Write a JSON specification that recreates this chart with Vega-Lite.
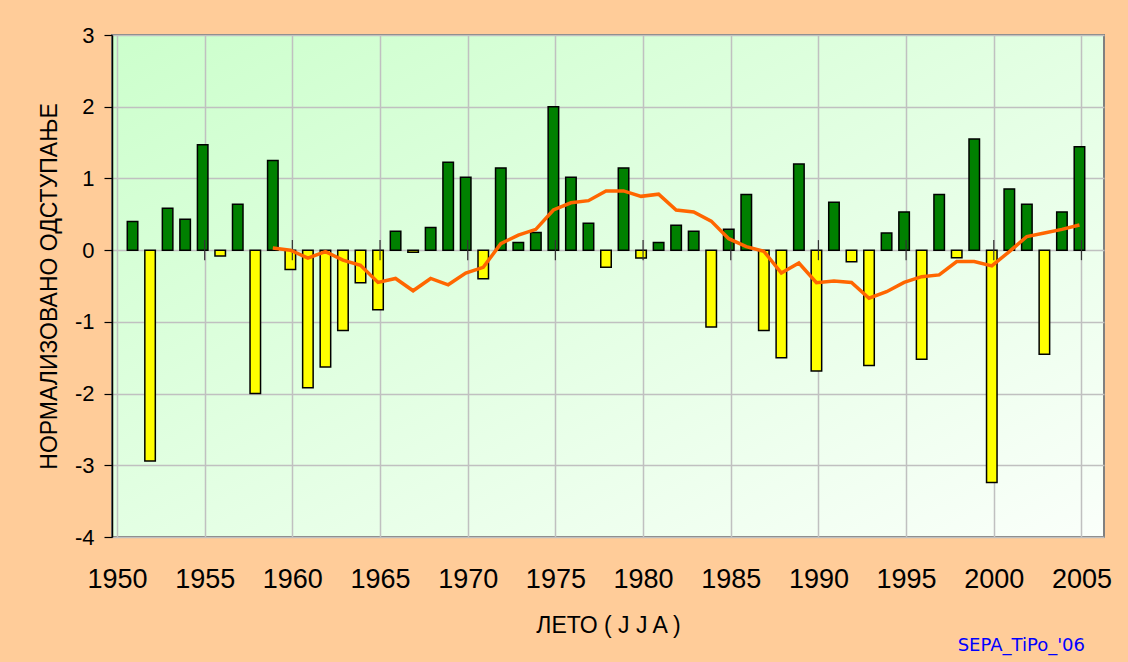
{
  "$schema": "https://vega.github.io/schema/vega-lite/v6.json",
  "width": 992,
  "height": 502,
  "autosize": "none",
  "padding": {"left": 112, "top": 35, "right": 24, "bottom": 125},
  "background": "#FFCC99",
  "config": {
    "font": "Liberation Sans",
    "view": {
      "fill": {"gradient": "linear", "x1": 0, "y1": 0, "x2": 1, "y2": 1, "stops": [{"offset": 0, "color": "#CCFFCC"}, {"offset": 1, "color": "#FAFFFA"}]},
      "stroke": "#808080",
      "strokeWidth": 2
    }
  },
  "title": {
    "text": "SEPA_TiPo_'06",
    "orient": "bottom",
    "anchor": "end",
    "frame": "group",
    "font": "DejaVu Sans",
    "fontSize": 18,
    "fontWeight": "normal",
    "color": "#0000FF",
    "dx": -19,
    "offset": 0
  },
  "datasets": {
    "bars": [
      {"year": 1951, "v": 0.40}, {"year": 1952, "v": -2.94}, {"year": 1953, "v": 0.585}, {"year": 1954, "v": 0.43},
      {"year": 1955, "v": 1.47}, {"year": 1956, "v": -0.08}, {"year": 1957, "v": 0.64}, {"year": 1958, "v": -2.0},
      {"year": 1959, "v": 1.25}, {"year": 1960, "v": -0.27}, {"year": 1961, "v": -1.92}, {"year": 1962, "v": -1.63},
      {"year": 1963, "v": -1.12}, {"year": 1964, "v": -0.455}, {"year": 1965, "v": -0.83}, {"year": 1966, "v": 0.265},
      {"year": 1967, "v": -0.03}, {"year": 1968, "v": 0.315}, {"year": 1969, "v": 1.225}, {"year": 1970, "v": 1.017},
      {"year": 1971, "v": -0.40}, {"year": 1972, "v": 1.146}, {"year": 1973, "v": 0.106}, {"year": 1974, "v": 0.245},
      {"year": 1975, "v": 2.0}, {"year": 1976, "v": 1.017}, {"year": 1977, "v": 0.376}, {"year": 1978, "v": -0.24},
      {"year": 1979, "v": 1.146}, {"year": 1980, "v": -0.11}, {"year": 1981, "v": 0.106}, {"year": 1982, "v": 0.348},
      {"year": 1983, "v": 0.265}, {"year": 1984, "v": -1.07}, {"year": 1985, "v": 0.29}, {"year": 1986, "v": 0.775},
      {"year": 1987, "v": -1.12}, {"year": 1988, "v": -1.50}, {"year": 1989, "v": 1.20}, {"year": 1990, "v": -1.685},
      {"year": 1991, "v": 0.668}, {"year": 1992, "v": -0.163}, {"year": 1993, "v": -1.607}, {"year": 1994, "v": 0.24},
      {"year": 1995, "v": 0.533}, {"year": 1996, "v": -1.523}, {"year": 1997, "v": 0.775}, {"year": 1998, "v": -0.107},
      {"year": 1999, "v": 1.55}, {"year": 2000, "v": -3.24}, {"year": 2001, "v": 0.854}, {"year": 2002, "v": 0.64},
      {"year": 2003, "v": -1.45}, {"year": 2004, "v": 0.533}, {"year": 2005, "v": 1.443}
    ],
    "ma": [
      {"year": 1959, "m": 0.03}, {"year": 1960, "m": 0.0}, {"year": 1961, "m": -0.11}, {"year": 1962, "m": -0.02},
      {"year": 1963, "m": -0.14}, {"year": 1964, "m": -0.21}, {"year": 1965, "m": -0.45}, {"year": 1966, "m": -0.395},
      {"year": 1967, "m": -0.567}, {"year": 1968, "m": -0.395}, {"year": 1969, "m": -0.483}, {"year": 1970, "m": -0.32},
      {"year": 1971, "m": -0.24}, {"year": 1972, "m": 0.09}, {"year": 1973, "m": 0.21}, {"year": 1974, "m": 0.29},
      {"year": 1975, "m": 0.56}, {"year": 1976, "m": 0.66}, {"year": 1977, "m": 0.69}, {"year": 1978, "m": 0.826},
      {"year": 1979, "m": 0.826}, {"year": 1980, "m": 0.75}, {"year": 1981, "m": 0.78}, {"year": 1982, "m": 0.56},
      {"year": 1983, "m": 0.533}, {"year": 1984, "m": 0.405}, {"year": 1985, "m": 0.16}, {"year": 1986, "m": 0.048},
      {"year": 1987, "m": -0.015}, {"year": 1988, "m": -0.32}, {"year": 1989, "m": -0.18}, {"year": 1990, "m": -0.455},
      {"year": 1991, "m": -0.43}, {"year": 1992, "m": -0.45}, {"year": 1993, "m": -0.67}, {"year": 1994, "m": -0.58},
      {"year": 1995, "m": -0.45}, {"year": 1996, "m": -0.37}, {"year": 1997, "m": -0.345}, {"year": 1998, "m": -0.16},
      {"year": 1999, "m": -0.16}, {"year": 2000, "m": -0.22}, {"year": 2001, "m": -0.02}, {"year": 2002, "m": 0.19},
      {"year": 2003, "m": 0.24}, {"year": 2004, "m": 0.29}, {"year": 2005, "m": 0.35}
    ],
    "ticks": [
      {"year": 1955}, {"year": 1960}, {"year": 1965}, {"year": 1970}, {"year": 1975}, {"year": 1980},
      {"year": 1985}, {"year": 1990}, {"year": 1995}, {"year": 2000}, {"year": 2005}
    ]
  },
  "layer": [
    {
      "data": {"name": "bars"},
      "mark": {"type": "bar", "width": 10.5, "stroke": "#000000", "strokeWidth": 1.5, "xOffset": -2},
      "encoding": {
        "x": {
          "field": "year", "type": "quantitative",
          "scale": {"domain": [1950, 2006], "nice": false, "zero": false},
          "axis": {
            "title": "ЛЕТО ( J J A )",
            "values": [1950, 1955, 1960, 1965, 1970, 1975, 1980, 1985, 1990, 1995, 2000, 2005],
            "format": "d",
            "labelFontSize": 27,
            "labelColor": "#000000",
            "labelPadding": 29,
            "ticks": false,
            "tickSize": 0,
            "domain": false,
            "grid": true,
            "gridColor": "#C0C0C0",
            "gridWidth": 1.5,
            "titleFontSize": 23,
            "titleFontWeight": "normal",
            "titleColor": "#000000",
            "titlePadding": 22,
            "labelFlush": false,
            "labelOverlap": false
          }
        },
        "y": {
          "field": "v", "type": "quantitative",
          "scale": {"domain": [-4, 3], "nice": false, "zero": false},
          "axis": {
            "title": "НОРМАЛИЗОВАНО ОДСТУПАЊЕ",
            "values": [-4, -3, -2, -1, 0, 1, 2, 3],
            "labelExpr": "toString(datum.value)",
            "labelFontSize": 22,
            "labelColor": "#000000",
            "labelPadding": 10,
            "tickSize": 8,
            "tickColor": "#000000",
            "tickWidth": 1.2,
            "domainColor": "#000000",
            "domainWidth": 1.5,
            "grid": true,
            "gridColor": "#C0C0C0",
            "gridWidth": 1.5,
            "titleFontSize": 23,
            "titleFontWeight": "normal",
            "titleColor": "#000000",
            "titlePadding": 13,
            "labelFlush": false,
            "labelOverlap": false
          }
        },
        "color": {
          "condition": {"test": "datum.v >= 0", "value": "#008000"},
          "value": "#FFFF00"
        }
      }
    },
    {
      "mark": {"type": "rule", "color": "#000000", "strokeWidth": 1.5},
      "encoding": {"y": {"datum": 0}}
    },
    {
      "data": {"name": "ticks"},
      "mark": {"type": "rule", "color": "#333333", "strokeWidth": 1.2},
      "encoding": {
        "x": {"field": "year", "type": "quantitative"},
        "y": {"datum": -0.14},
        "y2": {"datum": 0.14}
      }
    },
    {
      "data": {"name": "ma"},
      "mark": {"type": "line", "color": "#FF6600", "strokeWidth": 3.5, "xOffset": -2},
      "encoding": {
        "x": {"field": "year", "type": "quantitative"},
        "y": {"field": "m", "type": "quantitative"}
      }
    }
  ]
}
